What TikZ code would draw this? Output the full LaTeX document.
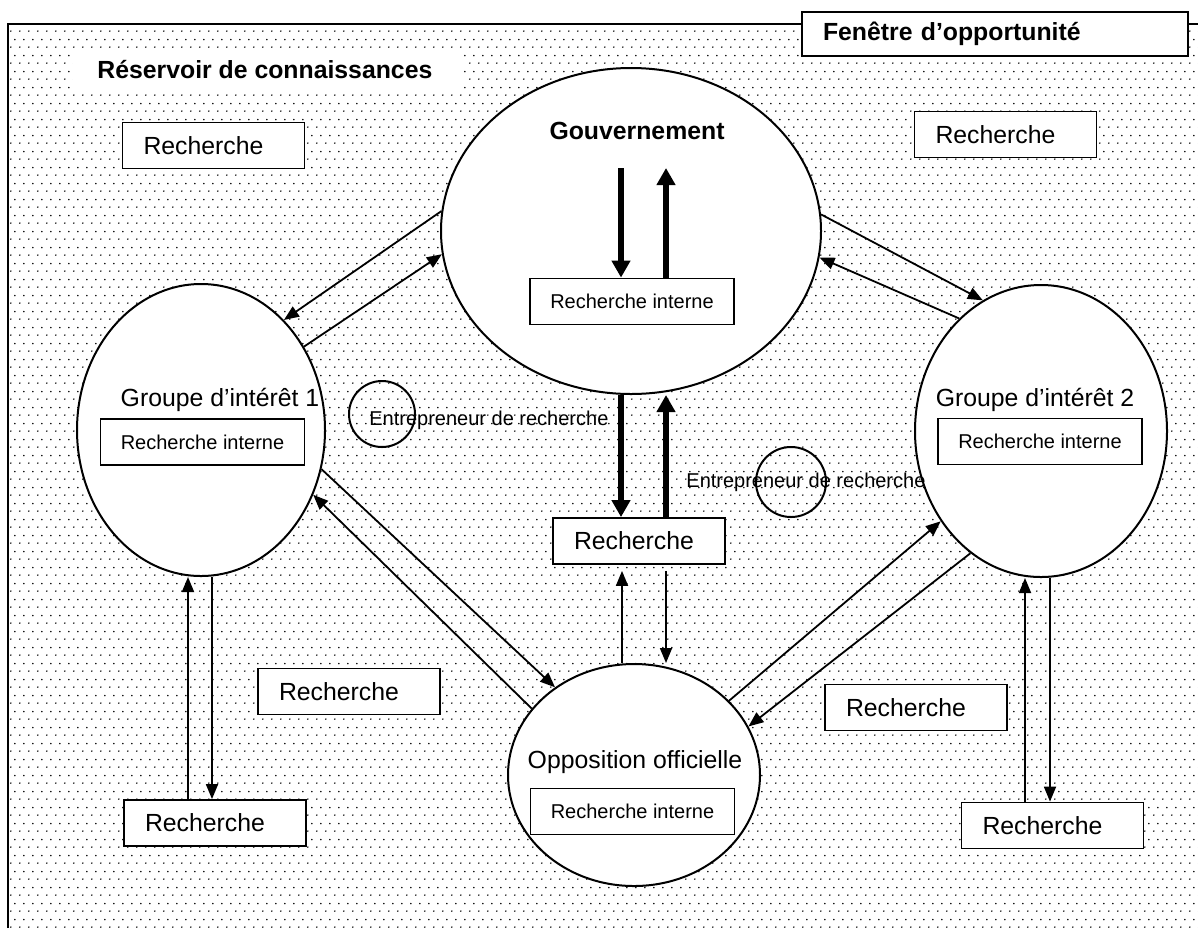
\documentclass[tikz,border=0pt]{standalone}
\usepackage{fontspec}
\setmainfont{Liberation Sans}
\usetikzlibrary{shapes.geometric,arrows.meta,patterns,calc}

\pgfdeclarepatternformonly{refdots}{\pgfpointorigin}{\pgfpoint{4.5pt}{8pt}}{\pgfpoint{4.5pt}{8pt}}{%
  \pgfpathcircle{\pgfpoint{1pt}{1pt}}{0.45pt}%
  \pgfpathcircle{\pgfpoint{3.25pt}{5pt}}{0.45pt}%
  \pgfusepath{fill}%
}

\tikzset{
  bigtxt/.style={font=\fontsize{12.4}{14}\selectfont},
  bigbold/.style={font=\fontsize{12.4}{14}\selectfont\bfseries},
  smalltxt/.style={font=\fontsize{10}{12}\selectfont},
  oval/.style={ellipse, draw, line width=1pt, fill=white, inner sep=0pt},
  rbox/.style={draw, line width=0.9pt, fill=white, minimum height=23pt, text width=70pt, inner xsep=10.5pt, inner ysep=0pt, align=left, bigtxt},
  ribox/.style={draw, line width=0.9pt, fill=white, minimum width=102pt, minimum height=23pt, inner sep=0pt, smalltxt},
  plain/.style={inner sep=0pt},
  thinarrow/.style={line width=0.9pt, -{Triangle[length=7.5pt,width=6pt]}},
  thickarrow/.style={line width=3pt, -{Triangle[length=8.5pt,width=9pt]}},
}

\begin{document}
\begin{tikzpicture}[x=0.5pt,y=-0.5pt]
\useasboundingbox (0,0) rectangle (1198,928);
\fill[white] (0,0) rectangle (1198,928);
\fill[pattern=refdots] (8,24) rectangle (1198,928);
\fill[white] (73,48) rectangle (463,90);
\draw[line width=1pt] (8,928) -- (8,24) -- (1198,24);

% window label
\node[draw, fill=white, line width=1pt, bigbold, anchor=north west, minimum height=22pt, text width=172pt, inner xsep=10.5pt, inner ysep=0pt, align=left] (fen) at (801,11) {Fenêtre d’opportunité};
\node[bigbold, plain, anchor=west] (res) at (97,70) {Réservoir de connaissances};

% actors
\node[oval, minimum width=190pt, minimum height=163pt] (gov) at (631,231) {};
\node[oval, minimum width=124pt, minimum height=146pt] (g1) at (201,430) {};
\node[oval, minimum width=126pt, minimum height=146pt] (g2) at (1041,431) {};
\node[oval, minimum width=126pt, minimum height=111pt] (opp) at (634,775) {};
\node[ellipse, draw, line width=1pt, inner sep=0pt, minimum width=33pt, minimum height=33pt] (e1) at (382,414) {};
\node[ellipse, draw, line width=1pt, inner sep=0pt, minimum width=35pt, minimum height=35pt] (e2) at (791,482) {};

\node[bigbold, plain, anchor=base] (govt) at (637,139) {Gouvernement};
\node[ribox] (govr) at (632,301.5) {Recherche interne};
\node[bigtxt, plain, anchor=base] (g1t) at (220,406) {Groupe d’intérêt 1};
\node[ribox] (g1r) at (202.5,442) {Recherche interne};
\node[bigtxt, plain, anchor=base] (g2t) at (1035,406) {Groupe d’intérêt 2};
\node[ribox] (g2r) at (1040,441.5) {Recherche interne};
\node[bigtxt, plain, anchor=base] (oppt) at (635,768) {Opposition officielle};
\node[ribox] (oppr) at (632.5,811.5) {Recherche interne};
\node[smalltxt, plain, anchor=base west] (e1t) at (369,425) {Entrepreneur de recherche};
\node[smalltxt, plain, anchor=base west] (e2t) at (686,487) {Entrepreneur de recherche};

% research boxes
\node[rbox] (rtl) at (213.5,145.5) {Recherche};
\node[rbox] (rtr) at (1005.5,134.5) {Recherche};
\node[rbox, text width=65pt] (rmid) at (639,541) {Recherche};
\node[rbox] (rll) at (349,691.5) {Recherche};
\node[rbox] (rlr) at (916,707.5) {Recherche};
\node[rbox] (rbl) at (215,823) {Recherche};
\node[rbox] (rbr) at (1052.5,825.5) {Recherche};

% government <-> internal research
\coordinate (gin) at (621,168);
\coordinate (gout) at (666,168);
\draw[thickarrow] (gin) -- (gin |- govr.north);
\draw[thickarrow] (gout |- govr.north) -- (gout);

% government <-> groups
\draw[thinarrow] (gov.174.6) -- (g1.53.2);
\draw[thinarrow] (g1.39.1) -- (gov.187.8);
\draw[thinarrow] (gov.5.3) -- (g2.114.2);
\draw[thinarrow] (g2.126.2) -- (gov.352.2);

% government <-> middle research
\coordinate (gd) at ([xshift=-5pt]gov.south);
\coordinate (gu) at ([xshift=17.5pt]gov.south);
\draw[thickarrow] (gd) -- (gd |- rmid.north);
\draw[thickarrow] (gu |- rmid.north) -- (gu);

% middle research <-> opposition
\coordinate (ou) at ([xshift=-6pt]opp.north);
\coordinate (od) at ([xshift=16pt]opp.north);
\draw[thinarrow] (ou) -- ([yshift=-3pt]ou |- rmid.south);
\draw[thinarrow] ([yshift=-3pt]od |- rmid.south) -- (od);

% groups <-> opposition
\draw[thinarrow] (g1.342) -- (opp.132.3);
\draw[thinarrow] (opp.147.2) -- (g1.330.3);
\draw[thinarrow] (opp.38.4) -- (g2.222.4);
\draw[thinarrow] (g2.240) -- (opp.23.3);

% groups <-> lower research
\coordinate (g1u) at ([xshift=-6.5pt]g1.south);
\coordinate (g1d) at ([xshift=5.5pt]g1.south);
\draw[thinarrow] (g1u |- rbl.north) -- (g1u);
\draw[thinarrow] (g1d) -- (g1d |- rbl.north);
\coordinate (g2u) at ([xshift=-8pt]g2.south);
\coordinate (g2d) at ([xshift=4.5pt]g2.south);
\draw[thinarrow] (g2u |- rbr.north) -- (g2u);
\draw[thinarrow] (g2d) -- (g2d |- rbr.north);
\end{tikzpicture}
\end{document}
